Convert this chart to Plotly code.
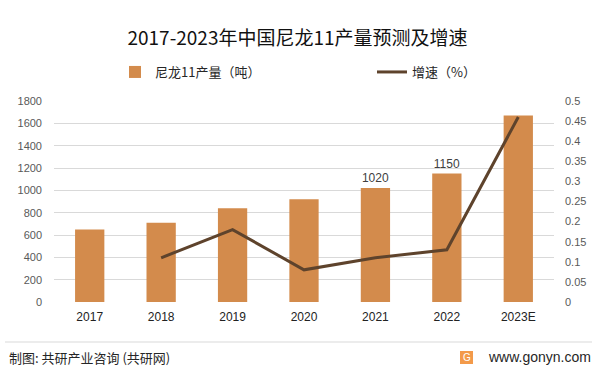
import plotly.graph_objects as go

years = ["2017", "2018", "2019", "2020", "2021", "2022", "2023E"]
output_tons = [650, 710, 840, 920, 1020, 1150, 1670]
growth_rate = [None, 0.11, 0.18, 0.08, 0.11, 0.13, 0.46]
labeled_years = ["2021", "2022"]

left_tick_vals = [0, 200, 400, 600, 800, 1000, 1200, 1400, 1600, 1800]
right_tick_vals = [0, 0.05, 0.1, 0.15, 0.2, 0.25, 0.3, 0.35, 0.4, 0.45, 0.5]
right_tick_text = ["0", "0.05", "0.1", "0.15", "0.2", "0.25", "0.3", "0.35", "0.4", "0.45", "0.5"]

title_text = "2017-2023年中国尼龙11产量预测及增速"
bar_name = "尼龙11产量（吨）"
line_name = "增速（%）"
source_text = "制图: 共研产业咨询 (共研网)"
site_text = "www.gonyn.com"

BAR_COLOR = "#d38b4c"
LINE_COLOR = "#5e432c"
CJK = "Noto Sans CJK SC"
NUM = "Liberation Sans"

bar_text = [str(v) if y in labeled_years else "" for y, v in zip(years, output_tons)]

fig = go.Figure()
fig.add_trace(go.Bar(
    x=years, y=output_tons, name=bar_name,
    marker=dict(color=BAR_COLOR, line=dict(width=0)),
    text=bar_text, textposition="outside", cliponaxis=False,
    textfont=dict(family=NUM, size=12, color="#404040"),
    yaxis="y", legend="legend",
))
fig.add_trace(go.Scatter(
    x=years, y=growth_rate, name=line_name, mode="lines",
    line=dict(color=LINE_COLOR, width=3),
    yaxis="y2", legend="legend2",
))

W, H = 601, 374
legend_common = dict(orientation="h", xref="container", yref="container",
                     y=1 - 72 / H, yanchor="middle", xanchor="left",
                     font=dict(family=CJK, size=13, color="#262626"),
                     bgcolor="rgba(0,0,0,0)")
fig.update_layout(
    width=W, height=H,
    margin=dict(l=54, r=47, t=101, b=72, autoexpand=False),
    paper_bgcolor="white", plot_bgcolor="white",
    bargap=0.59,
    title=dict(text=title_text, x=0.495, xanchor="center", y=1 - 38 / H, yanchor="middle",
               font=dict(family=CJK, size=19, color="#111111")),
    legend=dict(x=115 / W, **legend_common),
    legend2=dict(x=372 / W, **legend_common),
    xaxis=dict(type="category", showgrid=False, showline=False, ticks="",
               tickfont=dict(family=NUM, size=12, color="#222222"),
               ticklabelstandoff=6),
    yaxis=dict(range=[0, 1800], tickvals=left_tick_vals, showgrid=True,
               gridcolor="#d9d9d9", gridwidth=1, zeroline=False, showline=False,
               tickfont=dict(family=NUM, size=11, color="#595959"),
               ticklabelstandoff=11),
    yaxis2=dict(range=[0, 0.5], tickvals=right_tick_vals, ticktext=right_tick_text,
                overlaying="y", side="right", showgrid=False, zeroline=False,
                showline=False,
                tickfont=dict(family=NUM, size=11, color="#595959"),
                ticklabelstandoff=10),
    showlegend=True,
)

# footer separator
fig.add_shape(type="line", xref="paper", yref="paper",
              x0=-49 / 500, x1=538 / 500, y0=(302 - 342) / 201, y1=(302 - 342) / 201,
              line=dict(color="#d9d9d9", width=1))
# logo square
fig.add_shape(type="rect", xref="paper", yref="paper",
              x0=(460 - 54) / 500, x1=(473 - 54) / 500,
              y0=(302 - 364) / 201, y1=(302 - 351) / 201,
              fillcolor="#f39a4a", line=dict(width=0))

fig.add_annotation(text=source_text, xref="paper", yref="paper",
                   x=(7 - 54) / 500, y=(302 - 357) / 201, xanchor="left", yanchor="middle",
                   showarrow=False, font=dict(family=CJK, size=13, color="#262626"))
fig.add_annotation(text="G", xref="paper", yref="paper",
                   x=(466.5 - 54) / 500, y=(302 - 357.5) / 201, xanchor="center", yanchor="middle",
                   showarrow=False, font=dict(family=NUM, size=10, color="white"))
fig.add_annotation(text=site_text, xref="paper", yref="paper",
                   x=(593 - 54) / 500, y=(302 - 357) / 201, xanchor="right", yanchor="middle",
                   showarrow=False, font=dict(family=NUM, size=14, color="#262626"))

fig.write_html("out.html", config={"displayModeBar": False},
               post_script="document.body.style.margin='0';")
